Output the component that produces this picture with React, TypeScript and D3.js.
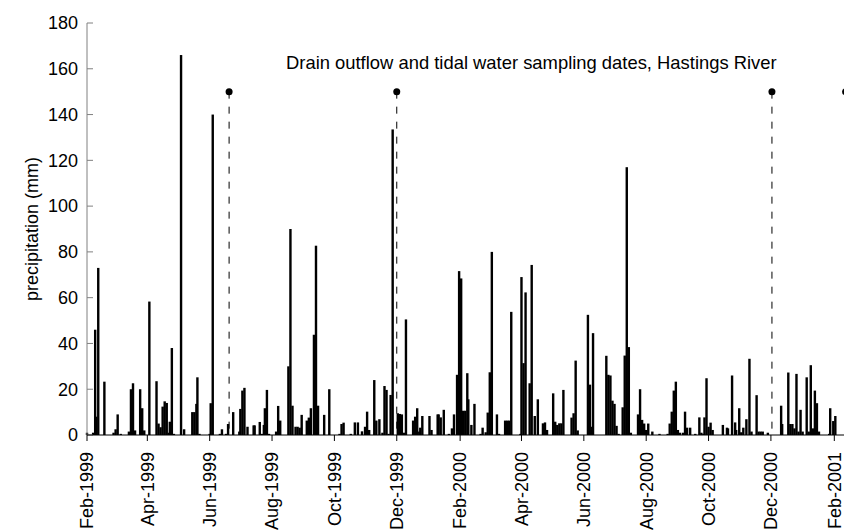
import React from "react";
import * as d3 from "d3";

// Daily precipitation, days counted from 1 Feb 1999
const recordStart = Date.UTC(1999, 1, 1);
const dayOfRecord = [
  0, 6, 8, 9, 11, 17, 26, 28, 30, 33, 41, 43, 45, 47, 52, 54, 56, 61, 68, 70, 72, 74, 76, 78, 80, 81, 83, 85, 92, 95,
  103, 105, 107, 108, 110, 120, 121, 123, 130, 132, 136, 138, 143, 149, 150, 152, 154, 157, 163, 164, 169, 171, 173, 174,
  176, 178, 185, 187, 189, 197, 199, 201, 204, 206, 208, 210, 215, 217, 219, 222, 224, 226, 232, 237, 247,
  249, 251, 258, 262, 265, 269, 272, 274, 276, 281, 283, 286, 289, 291, 293, 295, 297, 299, 304, 306, 308, 310, 312,
  319, 321, 323, 325, 326, 328, 335, 337, 343, 344, 346, 349, 354, 357, 359, 362, 364, 366, 368, 370, 372, 373, 376,
  379, 385, 387, 390, 392, 394, 396, 401, 403, 409, 411, 413, 415, 424, 425, 427, 429, 433, 435, 438, 441, 446, 448,
  450, 456, 458, 460, 462, 464, 466, 474, 476, 478, 480, 490, 492, 493,
  495, 508, 510, 512, 514, 516, 518, 520, 524, 526, 528, 530, 532, 539, 541, 543, 545, 547, 549, 553, 560, 568, 570,
  572, 574, 576, 578, 580, 583, 585, 587, 590, 595, 599, 601, 603, 604, 606, 608, 610, 612, 622, 626, 627, 631, 634,
  635, 638, 640, 642, 645, 648, 650, 655, 657, 659, 661, 666, 679, 680, 686, 688, 690, 692, 694, 696, 698, 700, 704,
  706, 708, 710, 712, 714, 716, 726, 727, 730, 732,
];
const precipMm = [
  1, 1, 46, 8, 73, 23.3, 1, 2.5, 9, 0.5, 1.5, 20, 22.6, 2, 20, 11.7, 2, 58.3, 23.5, 5, 3.4, 12.4, 14.7, 14, 1, 5.8, 38, 0.5, 166, 2.5,
  10, 10, 13.6, 25.2, 0.5, 0.5, 13.9, 140, 0.5, 2.5, 0.5, 4.8, 10, 1.5, 11.4, 19.4, 20.6, 3.6, 4.2, 4.2, 5.7, 0.5, 4.4, 11.7,
  19.7, 0.5, 1.5, 12.7, 6.3, 30, 90, 12.8, 3.6, 3.6, 3.2, 8.8, 6.3, 7.6, 11.7, 43.8, 82.7, 12.8, 8.8, 20, 0.5,
  4.8, 5.4, 0.5, 5.5, 5.5, 1.6, 3.6, 10.2, 2.2, 24, 6.3, 6.9, 1, 21.4, 19.7, 0.5, 17.5, 133.5, 9.5, 9.2, 9, 1, 50.5,
  6.3, 8, 11.7, 1.5, 3.2, 8.3, 8.3, 2.2, 9, 9, 7.7, 11, 0.5, 2.9, 9, 26.3, 71.6, 68.4, 10.6, 10.6, 27, 15.6, 4.4,
  13.6, 0.5, 3.2, 1.2, 9.8, 27.4, 80, 9, 0.5, 6.3, 6.3, 6.3, 53.8, 0.5, 69, 31.4, 62.3, 22.6, 74.3, 8.3, 15.6, 5.1, 5.5,
  2.2, 18.2, 5.8, 4.4, 5.1, 5.1, 19.7, 7.6, 9.5, 32.5, 2, 52.5, 22, 3.6,
  44.5, 34.6, 26.3, 26, 15, 13.6, 4, 0.5, 12.1, 34.7, 117, 38.4, 1, 9, 20, 6.6, 5, 2.2, 5, 1.5, 0.5, 0.5, 5,
  10.2, 19.4, 23.3, 2.2, 1, 1, 10.2, 3.2, 3.2, 0.5, 7.7, 1, 0.5, 7.7, 24.8, 3.6, 5.4, 2.2, 4.4, 3.2, 2.9, 26, 5.5,
  2.2, 11.7, 1.2, 3.2, 6.9, 33.3, 1.5, 17.4, 1.5, 1.5, 1.5, 1, 12.8, 4.8, 27.3, 4.8, 4.8, 2.9, 26.7, 1.5, 11, 1.5, 25.2,
  1.5, 30.5, 2.9, 19.4, 13.9, 1.5, 0.5, 11.7, 6.1, 8.3,
];
// Sampling dates (days from 1 Feb 1999), drawn at marker level 150 mm
const samplingDays = [139, 303, 670, 742];
const samplingLevel = 150;
const yTicks = [0, 20, 40, 60, 80, 100, 120, 140, 160, 180];
const chartTitle = "Drain outflow and tidal water sampling dates, Hastings River";
const yTitle = "precipitation (mm)";

const FONT = "'Liberation Sans', Arial, sans-serif";

export default function App() {
  const W = 844;
  const H = 531;
  const start = new Date(recordStart);
  const end = new Date(Date.UTC(2001, 1, 1));
  const x = d3.scaleUtc().domain([start, end]).range([87, 834.3]);
  const y = d3.scaleLinear().domain([0, 180]).range([435, 23]);
  const day = (d: number) => d3.utcDay.offset(start, d);
  const xTicks = d3.utcMonth.range(start, new Date(Date.UTC(2001, 1, 2)), 2);
  const fmt = d3.utcFormat("%b-%Y");
  const barW = 2.4;
  const x0 = x.range()[0];
  const y0 = y(0);

  return (
    <svg
      width={W}
      height={H}
      style={{ position: "absolute", left: 0, top: 0, background: "#fff" }}
      fontFamily={FONT}
    >
      <rect x={0} y={0} width={W} height={H} fill="#fff" />
      {dayOfRecord.map((d, i) => (
        <rect
          key={i}
          x={x(day(d)) - barW / 2}
          y={y(precipMm[i])}
          width={barW}
          height={y0 - y(precipMm[i])}
          fill="#000"
        />
      ))}
      {samplingDays.map((d, i) => (
        <g key={"s" + i}>
          <line
            x1={x(day(d))}
            x2={x(day(d))}
            y1={y(samplingLevel)}
            y2={y0}
            stroke="#000"
            strokeWidth={1}
            strokeDasharray="7,8"
          />
          <circle cx={x(day(d))} cy={y(samplingLevel)} r={3.5} fill="#000" />
        </g>
      ))}
      <line x1={x0} x2={x0} y1={y(180)} y2={y0} stroke="#808080" strokeWidth={1} />
      {yTicks.map((t) => (
        <g key={"y" + t}>
          <line x1={x0} x2={x0 + 6} y1={y(t)} y2={y(t)} stroke="#808080" strokeWidth={1} />
          <text x={78} y={y(t)} dy="0.35em" textAnchor="end" fontSize={18} fill="#000">
            {t}
          </text>
        </g>
      ))}
      <line x1={x0} x2={W} y1={y0} y2={y0} stroke="#000" strokeWidth={1} />
      {xTicks.map((t, i) => (
        <g key={"x" + i}>
          <line x1={x(t)} x2={x(t)} y1={y0} y2={y0 + 6} stroke="#000" strokeWidth={1} />
          <text
            transform={`translate(${x(t)},${452}) rotate(-90)`}
            dy="0.35em"
            textAnchor="end"
            fontSize={18}
            fill="#000"
          >
            {fmt(t)}
          </text>
        </g>
      ))}
      <text transform={`translate(38,229) rotate(-90)`} textAnchor="middle" fontSize={18} fill="#000">
        {yTitle}
      </text>
      <text x={286} y={69} fontSize={18.4} fill="#000">
        {chartTitle}
      </text>
    </svg>
  );
}
